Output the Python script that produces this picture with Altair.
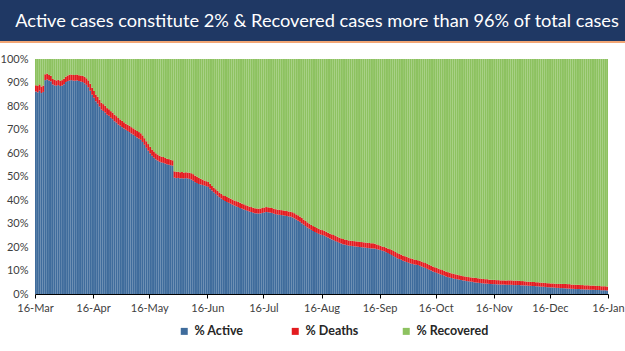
import altair as alt
import pandas as pd

TITLE = "Active cases constitute 2% & Recovered cases more than 96% of total cases"
SERIES = ["% Active", "% Deaths", "% Recovered"]
COLORS = ["#3F6C9C", "#E31B1F", "#8DC260"]
START = "2020-03-16"
END = "2021-01-16"
TICK_DATES = ["2020-03-16", "2020-04-16", "2020-05-16", "2020-06-16", "2020-07-16",
              "2020-08-16", "2020-09-16", "2020-10-16", "2020-11-16", "2020-12-16",
              "2021-01-16"]
Y_TICKS = [0, 10, 20, 30, 40, 50, 60, 70, 80, 90, 100]

# daily share of active cases (%), 16-Mar-2020 .. 15-Jan-2021
ACTIVE = [
    86.2, 85.8, 86.5, 85.5, 86.0, 91.0, 91.3, 90.8, 90.5, 89.2,
    88.8, 88.6, 88.9, 88.5, 88.7, 89.3, 90.2, 90.6, 90.9, 91.0,
    90.8, 90.7, 90.9, 90.6, 90.4, 90.2, 89.7, 89.0, 88.0, 86.5,
    84.8, 83.5, 82.0, 81.0, 79.8, 78.5, 77.9, 77.2, 76.3, 75.8,
    75.0, 74.4, 73.5, 72.9, 72.1, 71.6, 71.0, 70.4, 69.9, 69.4,
    68.9, 68.3, 67.8, 67.2, 66.6, 66.1, 65.6, 64.7, 63.5, 62.2,
    61.0, 59.8, 58.8, 58.0, 57.3, 56.8, 56.3, 56.0, 55.8, 55.5,
    55.2, 55.0, 54.8, 54.6, 49.5, 49.3, 49.4, 49.2, 49.3, 49.1,
    49.3, 49.2, 49.0, 48.7, 48.2, 47.6, 47.2, 46.8, 46.6, 46.4,
    46.1, 45.9, 45.6, 44.8, 44.0, 43.3, 42.6, 41.9, 41.2, 40.6,
    40.0, 39.6, 39.2, 38.8, 38.4, 38.0, 37.6, 37.3, 37.0, 36.6,
    36.3, 36.0, 35.7, 35.4, 35.1, 34.9, 34.6, 34.4, 34.3, 34.2,
    34.3, 34.5, 34.7, 34.9, 34.8, 34.7, 34.5, 34.2, 34.0, 33.8,
    33.7, 33.6, 33.5, 33.3, 33.2, 33.0, 32.9, 32.6, 32.2, 31.7,
    31.2, 30.7, 30.1, 29.5, 28.9, 28.3, 27.8, 27.3, 26.8, 26.4,
    26.0, 25.6, 25.3, 25.1, 24.8, 24.4, 24.0, 23.6, 23.2, 22.9,
    22.5, 22.2, 21.8, 21.5, 21.2, 21.0, 20.8, 20.6, 20.5, 20.4,
    20.3, 20.2, 20.1, 20.0, 19.9, 19.8, 19.7, 19.6, 19.5, 19.4,
    19.4, 19.3, 19.1, 18.9, 18.7, 18.4, 18.2, 17.8, 17.4, 17.0,
    16.6, 16.1, 15.7, 15.2, 14.9, 14.6, 14.2, 13.9, 13.6, 13.3,
    13.0, 12.8, 12.6, 12.4, 12.3, 12.0, 11.7, 11.4, 11.1, 10.7,
    10.3, 10.0, 9.6, 9.3, 9.0, 8.7, 8.4, 8.1, 7.8, 7.5,
    7.2, 7.0, 6.8, 6.6, 6.4, 6.3, 6.1, 6.0, 5.8, 5.7,
    5.5, 5.4, 5.3, 5.2, 5.0, 4.9, 4.8, 4.7, 4.6, 4.5,
    4.4, 4.4, 4.3, 4.3, 4.2, 4.2, 4.1, 4.1, 4.0, 4.0,
    4.0, 3.9, 3.9, 3.9, 3.9, 3.8, 3.8, 3.8, 3.8, 3.7,
    3.7, 3.6, 3.6, 3.5, 3.5, 3.4, 3.4, 3.3, 3.3, 3.2,
    3.1, 3.1, 3.0, 2.9, 2.9, 2.8, 2.8, 2.7, 2.6, 2.6,
    2.5, 2.5, 2.4, 2.4, 2.3, 2.3, 2.2, 2.2, 2.1, 2.1,
    2.1, 2.0, 2.0, 1.9, 1.9, 1.9, 1.8, 1.8, 1.8, 1.7,
    1.7, 1.7, 1.6, 1.6, 1.6, 1.5,
]

# daily share of deaths (%)
DEATHS = [
    2.6, 2.7, 2.7, 2.8, 2.7, 2.5, 2.5, 2.4, 2.4, 2.3,
    2.3, 2.3, 2.2, 2.2, 2.3, 2.3, 2.3, 2.4, 2.4, 2.4,
    2.4, 2.5, 2.5, 2.5, 2.6, 2.6, 2.7, 2.8, 2.9, 3.0,
    3.0, 2.9, 2.9, 2.9, 2.9, 2.9, 2.9, 2.9, 2.8, 2.8,
    2.8, 2.8, 2.8, 2.8, 2.8, 2.7, 2.7, 2.7, 2.6, 2.6,
    2.7, 2.7, 2.7, 2.8, 2.8, 2.8, 2.8, 2.8, 2.8, 2.8,
    2.8, 2.8, 2.7, 2.7, 2.6, 2.6, 2.5, 2.5, 2.5, 2.4,
    2.4, 2.4, 2.3, 2.3, 2.7, 2.7, 2.6, 2.6, 2.6, 2.5,
    2.5, 2.5, 2.6, 2.7, 2.8, 2.8, 2.8, 2.6, 2.4, 2.3,
    2.2, 2.1, 2.1, 2.1, 2.0, 2.0, 2.0, 2.0, 2.0, 2.0,
    2.0, 2.1, 2.1, 2.1, 2.2, 2.2, 2.2, 2.2, 2.2, 2.2,
    2.2, 2.2, 2.1, 2.1, 2.1, 2.1, 2.1, 2.1, 2.1, 2.1,
    2.1, 2.1, 2.1, 2.1, 2.1, 2.1, 2.1, 2.1, 2.1, 2.1,
    2.1, 2.1, 2.1, 2.1, 2.1, 2.1, 2.1, 2.2, 2.2, 2.2,
    2.3, 2.3, 2.3, 2.2, 2.2, 2.2, 2.2, 2.1, 2.1, 2.1,
    2.1, 2.1, 2.1, 2.1, 2.1, 2.1, 2.1, 2.1, 2.2, 2.2,
    2.2, 2.2, 2.2, 2.2, 2.2, 2.2, 2.2, 2.2, 2.2, 2.2,
    2.2, 2.2, 2.2, 2.2, 2.2, 2.2, 2.2, 2.2, 2.2, 2.2,
    2.2, 2.1, 2.0, 1.9, 1.8, 1.8, 1.8, 1.9, 2.0, 2.1,
    2.2, 2.2, 2.2, 2.2, 2.2, 2.2, 2.2, 2.2, 2.2, 2.2,
    2.2, 2.2, 2.1, 2.1, 2.1, 2.1, 2.1, 2.1, 2.1, 2.1,
    2.1, 2.1, 2.1, 2.1, 2.1, 2.1, 2.1, 2.1, 2.1, 2.1,
    2.1, 2.1, 2.0, 2.0, 2.0, 1.9, 1.9, 1.9, 1.8, 1.8,
    1.8, 1.8, 1.8, 1.8, 1.9, 1.9, 1.9, 1.9, 1.9, 1.9,
    1.9, 1.9, 1.8, 1.8, 1.8, 1.8, 1.8, 1.8, 1.8, 1.8,
    1.8, 1.8, 1.9, 1.9, 1.9, 1.9, 1.9, 1.9, 1.8, 1.8,
    1.8, 1.8, 1.7, 1.7, 1.7, 1.7, 1.7, 1.7, 1.7, 1.7,
    1.7, 1.7, 1.7, 1.7, 1.7, 1.7, 1.7, 1.7, 1.7, 1.7,
    1.8, 1.8, 1.9, 1.9, 1.9, 1.9, 1.8, 1.8, 1.8, 1.8,
    1.8, 1.8, 1.8, 1.8, 1.8, 1.8, 1.8, 1.8, 1.8, 1.8,
    1.7, 1.7, 1.7, 1.7, 1.7, 1.7,
]

FONT = "Lato"


def dt(s):
    t = pd.Timestamp(s)
    return alt.DateTime(year=t.year, month=t.month, date=t.day)


dates = pd.date_range(START, periods=len(ACTIVE), freq="D")
rows = []
for i, d in enumerate(dates):
    vals = [ACTIVE[i], DEATHS[i], 100 - ACTIVE[i] - DEATHS[i]]
    lo = 0.0
    for s, v in zip(SERIES, vals):
        rows.append({
            "date": d.strftime("%Y-%m-%dT00:00:00"),
            "end": (d + pd.Timedelta(days=1)).strftime("%Y-%m-%dT00:00:00"),
            "series": s,
            "lo": lo,
            "hi": lo + v,
        })
        lo += v
df = pd.DataFrame(rows)

bars = alt.Chart(df).mark_bar(strokeWidth=0).encode(
    x=alt.X("date:T",
            scale=alt.Scale(domain=[dt(START), dt(END)]),
            axis=alt.Axis(values=[dt(s) for s in TICK_DATES], format="%d-%b",
                          title=None, grid=False, labelFont=FONT, labelFontSize=11,
                          labelColor="#404040", tickSize=4, tickColor="#000000",
                          domainColor="#000000", labelPadding=4, labelFlush=False,
                          labelOverlap=False)),
    x2="end:T",
    y=alt.Y("lo:Q", scale=alt.Scale(domain=[0, 100], nice=False),
            axis=alt.Axis(values=Y_TICKS, labelExpr="datum.value + '%'", title=None,
                          grid=False, domain=False, ticks=False, labelPadding=7,
                          labelFont=FONT, labelFontSize=11, labelColor="#404040")),
    y2="hi:Q",
    color=alt.Color("series:N", scale=alt.Scale(domain=SERIES, range=COLORS),
                    legend=alt.Legend(orient="none", legendX=143, legendY=266,
                                      direction="horizontal", columns=3, title=None,
                                      symbolType="square", symbolSize=49,
                                      symbolStrokeWidth=0, labelFont=FONT,
                                      labelFontWeight="bold", labelFontSize=12.5,
                                      labelColor="#262626", gridAlign="all",
                                      columnPadding=22, labelOffset=4)),
)

title_data = alt.Data(values=[{"t": TITLE}])
banner = alt.Chart(title_data).mark_rect(color="#1F3864").encode(
    x=alt.value(-35), x2=alt.value(590), y=alt.value(-59), y2=alt.value(-18))
underline = alt.Chart(title_data).mark_rect(color="#F2A675").encode(
    x=alt.value(-35), x2=alt.value(590), y=alt.value(-18), y2=alt.value(-16))
title_text = alt.Chart(title_data).mark_text(
    color="white", font=FONT, fontSize=18.2, align="center",
    baseline="alphabetic").encode(
    x=alt.value(282), y=alt.value(-32), text="t:N")

chart = alt.layer(banner, underline, title_text, bars).properties(
    width=573, height=235,
    autosize=alt.AutoSizeParams(type="none"),
    padding={"left": 35, "top": 59, "right": 17, "bottom": 57},
    background="white",
).configure_view(stroke=None)

chart.save("out.html", embed_options={"renderer": "svg", "actions": False})
